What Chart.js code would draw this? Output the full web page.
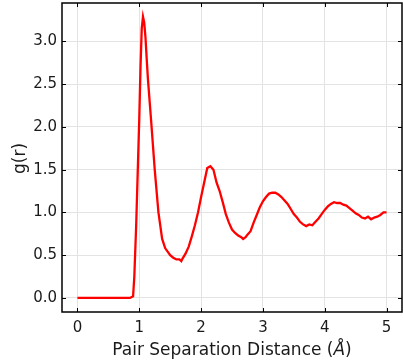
<!DOCTYPE html>
<html>
<head>
<meta charset="utf-8">
<script src="https://cdn.jsdelivr.net/npm/chart.js@4"></script>
<style>
  html, body { margin: 0; padding: 0; background: #fff; }
  #wrap { width: 403px; height: 362px; }
</style>
</head>
<body>
<div id="wrap"><canvas id="gr"></canvas></div>
<script>
// radial distribution function
var R = [0, 0.1, 0.2, 0.3, 0.4, 0.5, 0.6, 0.7, 0.8, 0.85, 0.9, 0.92, 0.95, 0.98, 1.0, 1.02, 1.04, 1.06, 1.08, 1.1,
    1.12, 1.14, 1.19, 1.25, 1.31, 1.37, 1.42, 1.45, 1.5, 1.55, 1.6, 1.65, 1.68, 1.7, 1.75, 1.8, 1.85, 1.9, 1.95, 2.0,
    2.05, 2.1, 2.15, 2.2, 2.25, 2.3, 2.35, 2.4, 2.45, 2.5, 2.55, 2.6, 2.65, 2.68, 2.72, 2.75, 2.8, 2.85, 2.9, 2.95,
    3.0, 3.05, 3.1, 3.15, 3.2, 3.25, 3.3, 3.35, 3.4, 3.45, 3.5, 3.55, 3.6, 3.65, 3.7, 3.75, 3.8, 3.85, 3.9, 3.95,
    4.0, 4.05, 4.1, 4.15, 4.2, 4.25, 4.3, 4.35, 4.4, 4.45, 4.5, 4.55, 4.6, 4.65, 4.7, 4.75, 4.8, 4.85, 4.9, 4.95, 5.0];
var G = [0, 0, 0, 0, 0, 0, 0, 0, 0, 0, 0.02, 0.25, 0.85, 1.6, 2.1, 2.7, 3.15, 3.29, 3.22, 3.05,
    2.8, 2.56, 2.09, 1.5, 1.0, 0.69, 0.58, 0.55, 0.5, 0.47, 0.45, 0.45, 0.43, 0.46, 0.52, 0.6, 0.72, 0.85, 1.0, 1.18,
    1.35, 1.52, 1.54, 1.5, 1.35, 1.25, 1.12, 0.98, 0.88, 0.8, 0.76, 0.73, 0.71, 0.69, 0.71, 0.74, 0.78, 0.88, 0.97, 1.06,
    1.13, 1.18, 1.22, 1.23, 1.23, 1.21, 1.18, 1.14, 1.1, 1.04, 0.98, 0.94, 0.89, 0.86, 0.84, 0.86, 0.85, 0.89, 0.93, 0.98,
    1.03, 1.07, 1.1, 1.12, 1.11, 1.11, 1.09, 1.08, 1.05, 1.02, 0.99, 0.97, 0.94, 0.93, 0.95, 0.92, 0.94, 0.95, 0.97, 1.0, 1.0];

var X_TICKS = [0, 1, 2, 3, 4, 5];
var Y_TICKS = [0, 0.5, 1, 1.5, 2, 2.5, 3];
var X_TITLE = ["Pair Separation Distance (", "Å", ")"];
var Y_TITLE = "g(r)";

var points = R.map(function (r, i) { return { x: r, y: G[i] }; });

var TEXT = "#1a1a1a";
var FONT = "DejaVu Sans";

// matplotlib style frame: box on all sides, ticks pointing in, axis titles
var frame = {
    id: "frame",
    afterDraw: function (chart) {
        var ctx = chart.ctx;
        var a = chart.chartArea;
        var xs = chart.scales.x, ys = chart.scales.y;
        ctx.save();
        ctx.strokeStyle = "#000";
        ctx.lineWidth = 1;
        ctx.beginPath();
        X_TICKS.forEach(function (v) {
            var p = Math.round(xs.getPixelForValue(v)) + 0.5;
            ctx.moveTo(p, a.bottom); ctx.lineTo(p, a.bottom - 4);
            ctx.moveTo(p, a.top); ctx.lineTo(p, a.top + 4);
        });
        Y_TICKS.forEach(function (v) {
            var p = Math.round(ys.getPixelForValue(v)) + 0.5;
            ctx.moveTo(a.left, p); ctx.lineTo(a.left + 4, p);
            ctx.moveTo(a.right, p); ctx.lineTo(a.right - 4, p);
        });
        ctx.stroke();
        ctx.lineWidth = 1.5;
        ctx.strokeRect(a.left, a.top, a.right - a.left, a.bottom - a.top);

        // x title with italic Angstrom
        ctx.fillStyle = TEXT;
        ctx.textBaseline = "alphabetic";
        ctx.textAlign = "left";
        var fonts = ["17px '" + FONT + "'", "oblique 17px '" + FONT + "'", "17px '" + FONT + "'"];
        var w = 0;
        X_TITLE.forEach(function (t, i) { ctx.font = fonts[i]; w += ctx.measureText(t).width; });
        var x = (a.left + a.right) / 2 - w / 2;
        X_TITLE.forEach(function (t, i) {
            ctx.font = fonts[i];
            ctx.fillText(t, x, 355);
            x += ctx.measureText(t).width;
        });

        // y title
        ctx.translate(21, (a.top + a.bottom) / 2 + 1);
        ctx.rotate(-Math.PI / 2);
        ctx.font = "17px '" + FONT + "'";
        ctx.textAlign = "center";
        ctx.textBaseline = "middle";
        ctx.fillText(Y_TITLE, 0, 0);
        ctx.restore();
    }
};

const config = {
    type: "line",
    data: {
        datasets: [
            {
                data: points,
                borderColor: "#ff0000",
                borderWidth: 2.3,
                pointRadius: 0,
                tension: 0,
                fill: false,
            },
        ],
    },
    options: {
        animation: false,
        responsive: false,
        layout: { padding: { top: 3, right: 1, left: 0, bottom: 0 } },
        plugins: {
            legend: { display: false },
            tooltip: { enabled: false },
        },
        scales: {
            x: {
                type: "linear",
                min: -0.25,
                max: 5.25,
                afterBuildTicks: function (s) { s.ticks = X_TICKS.map(function (v) { return { value: v }; }); },
                afterFit: function (s) { s.height = 50; s.paddingLeft = 0; s.paddingRight = 0; },
                grid: { color: "#e3e3e3", drawTicks: false },
                border: { display: false },
                ticks: {
                    padding: 7,
                    color: TEXT,
                    font: { family: FONT, size: 15 },
                    callback: function (v) { return String(v); },
                },
            },
            y: {
                type: "linear",
                min: -0.165,
                max: 3.45,
                afterBuildTicks: function (s) { s.ticks = Y_TICKS.map(function (v) { return { value: v }; }); },
                afterFit: function (s) { s.width = 62; s.paddingTop = 0; s.paddingBottom = 0; },
                grid: { color: "#e3e3e3", drawTicks: false },
                border: { display: false },
                ticks: {
                    padding: 5,
                    color: TEXT,
                    font: { family: FONT, size: 15 },
                    callback: function (v) { return v.toFixed(1); },
                },
            },
        },
    },
    plugins: [frame],
};

const canvas = document.getElementById("gr");
canvas.width = 403;
canvas.height = 362;
new Chart(canvas, config);
</script>
</body>
</html>
